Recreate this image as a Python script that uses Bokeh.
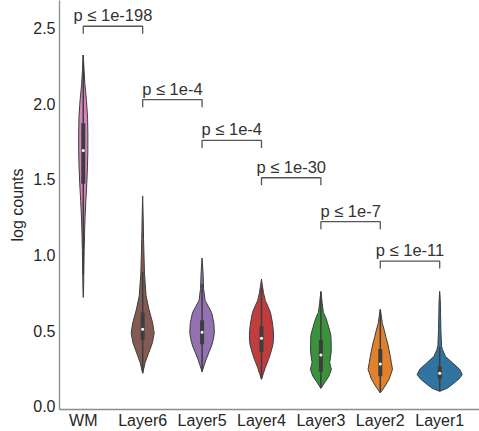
from bokeh.plotting import figure
from bokeh.models import Range1d, FixedTicker, PrintfTickFormatter, ColumnDataSource
from bokeh.core.properties import value
from bokeh.embed import file_html
from bokeh.resources import INLINE

categories = ["WM", "Layer6", "Layer5", "Layer4", "Layer3", "Layer2", "Layer1"]
colors = ["#d684bd", "#845b53", "#9372b2", "#c03d3e", "#3a923a", "#e1812c", "#3274a1"]

# violin profiles: log-count levels and relative density (half width)
wm_y = [0.72, 0.80, 0.92, 1.03, 1.14, 1.25, 1.36, 1.47, 1.58, 1.69, 1.80, 1.91, 2.02, 2.13, 2.22, 2.32]
wm_d = [0, 0.4, 0.6, 0.9, 1.3, 1.8, 2.6, 3.5, 4.2, 4.6, 4.6, 4.3, 3.2, 1.6, 0.8, 0]
l6_y = [0.22, 0.29, 0.35, 0.42, 0.485, 0.55, 0.64, 0.73, 0.88, 1.00, 1.10, 1.25, 1.39]
l6_d = [0, 2.5, 5.8, 9.7, 11.5, 10.0, 6.3, 3.4, 1.8, 1.3, 0.9, 0.5, 0]
l5_y = [0.23, 0.27, 0.31, 0.36, 0.40, 0.45, 0.49, 0.55, 0.62, 0.66, 0.70, 0.78, 0.88, 0.98]
l5_d = [0, 2, 4, 7, 9.5, 11.5, 12.3, 11.8, 9.5, 6.3, 3, 1.5, 1, 0]
l4_y = [0.18, 0.22, 0.26, 0.31, 0.36, 0.41, 0.45, 0.49, 0.55, 0.62, 0.66, 0.70, 0.75, 0.84]
l4_d = [0, 2, 4, 7, 9.5, 11.5, 12, 12, 11, 9, 6.5, 3.8, 2, 0]
l3_y = [0.12, 0.16, 0.20, 0.245, 0.27, 0.29, 0.32, 0.36, 0.41, 0.47, 0.52, 0.585, 0.62, 0.68, 0.76]
l3_d = [0, 4, 8, 10.5, 9.5, 8.8, 9.5, 10.3, 10.3, 10, 8, 5, 2.5, 1.3, 0]
l2_y = [0.09, 0.125, 0.18, 0.245, 0.29, 0.33, 0.38, 0.42, 0.46, 0.49, 0.55, 0.60, 0.64]
l2_d = [0, 3.8, 8.8, 12.2, 11, 10, 8.5, 7.2, 5.5, 4.5, 2, 1, 0]
l1_y = [0.10, 0.12, 0.145, 0.18, 0.21, 0.245, 0.29, 0.33, 0.375, 0.40, 0.50, 0.60, 0.70, 0.76]
l1_d = [0, 7.5, 12.5, 19, 22.5, 20, 12.5, 5.8, 2.8, 1.8, 1.2, 0.9, 0.6, 0]

q1 = [1.47, 0.44, 0.41, 0.36, 0.23, 0.20, 0.18]
median = [1.69, 0.51, 0.49, 0.45, 0.34, 0.28, 0.22]
q3 = [1.87, 0.62, 0.57, 0.53, 0.44, 0.38, 0.265]

pair_left = [0, 1, 2, 3, 4, 5]
pair_right = [1, 2, 3, 4, 5, 6]
bracket_h = [2.51, 2.025, 1.757, 1.51, 1.22, 0.96]
pvals = ["p \u2264 1e-198", "p \u2264 1e-4", "p \u2264 1e-4", "p \u2264 1e-30", "p \u2264 1e-7", "p \u2264 1e-11"]

profiles = [(wm_y, wm_d), (l6_y, l6_d), (l5_y, l5_d), (l4_y, l4_d),
            (l3_y, l3_d), (l2_y, l2_d), (l1_y, l1_d)]

FONT = "Liberation Sans"
WSCALE = 1 / 59.33

p = figure(width=479, height=431, x_range=Range1d(-0.4, 6.67), y_range=Range1d(-0.02, 2.68),
           output_backend="svg", toolbar_location=None,
           min_border_left=59, min_border_right=0, min_border_top=0, min_border_bottom=21)
p.grid.visible = False
p.outline_line_color = None
p.background_fill_color = "white"
p.border_fill_color = "white"

# violins
xs, ys = [], []
for i, (vy, vd) in enumerate(profiles):
    right = [i + d * WSCALE for d in vd]
    left = [i - d * WSCALE for d in vd][::-1]
    xs.append(right + left)
    ys.append(list(vy) + list(vy)[::-1])
p.patches(xs, ys, fill_color=colors, line_color="#3d3d3d", line_width=1)

# whiskers
lo, hi = [], []
for i, (vy, vd) in enumerate(profiles):
    iqr = q3[i] - q1[i]
    lo.append(max(min(vy), q1[i] - 1.5 * iqr))
    hi.append(min(max(vy), q3[i] + 1.5 * iqr))
xi = list(range(len(categories)))
p.segment(x0=xi, y0=lo, x1=xi, y1=hi, line_color="#3d3d3d", line_width=1.5)
p.vbar(x=xi, width=4 * WSCALE, bottom=q1, top=q3, fill_color="#3d3d3d", line_color=None)
p.scatter(x=xi, y=median, size=3, fill_color="white", line_color=None)

# significance brackets
leg = 0.05
bx, by = [], []
for a, b, h in zip(pair_left, pair_right, bracket_h):
    bx.append([a, a, b, b])
    by.append([h - leg, h, h, h - leg])
p.multi_line(bx, by, line_color="#555555", line_width=1.3)
src = ColumnDataSource(dict(x=[(a + b) / 2 for a, b in zip(pair_left, pair_right)],
                            y=[h + 0.012 for h in bracket_h], t=pvals))
p.text(x="x", y="y", text="t", source=src, text_align="center", text_baseline="bottom",
       text_font=value(FONT), text_font_size="16.5px", text_color="#333333")

# axes
for ax in (p.xaxis[0], p.yaxis[0]):
    ax.major_tick_out = 0
    ax.major_tick_in = 0
    ax.minor_tick_out = 0
    ax.minor_tick_in = 0
    ax.axis_line_color = "#8c8c8c"
    ax.axis_line_width = 1.3
    ax.major_label_text_font = FONT
    ax.major_label_text_font_size = "16px"
    ax.major_label_text_color = "#262626"
    ax.axis_label_text_font = FONT
    ax.axis_label_text_font_size = "16px"
    ax.axis_label_text_font_style = "normal"
    ax.axis_label_text_color = "#262626"

p.yaxis.ticker = FixedTicker(ticks=[0, 0.5, 1.0, 1.5, 2.0, 2.5])
p.yaxis.formatter = PrintfTickFormatter(format="%.1f")
p.yaxis.axis_label = "log counts"
p.yaxis.major_label_standoff = 4
p.yaxis.axis_label_standoff = 4
p.xaxis.ticker = FixedTicker(ticks=xi)
p.xaxis.major_label_overrides = {i: c for i, c in enumerate(categories)}
p.xaxis.major_label_standoff = 2

open("out.html", "w").write(file_html(p, INLINE))
